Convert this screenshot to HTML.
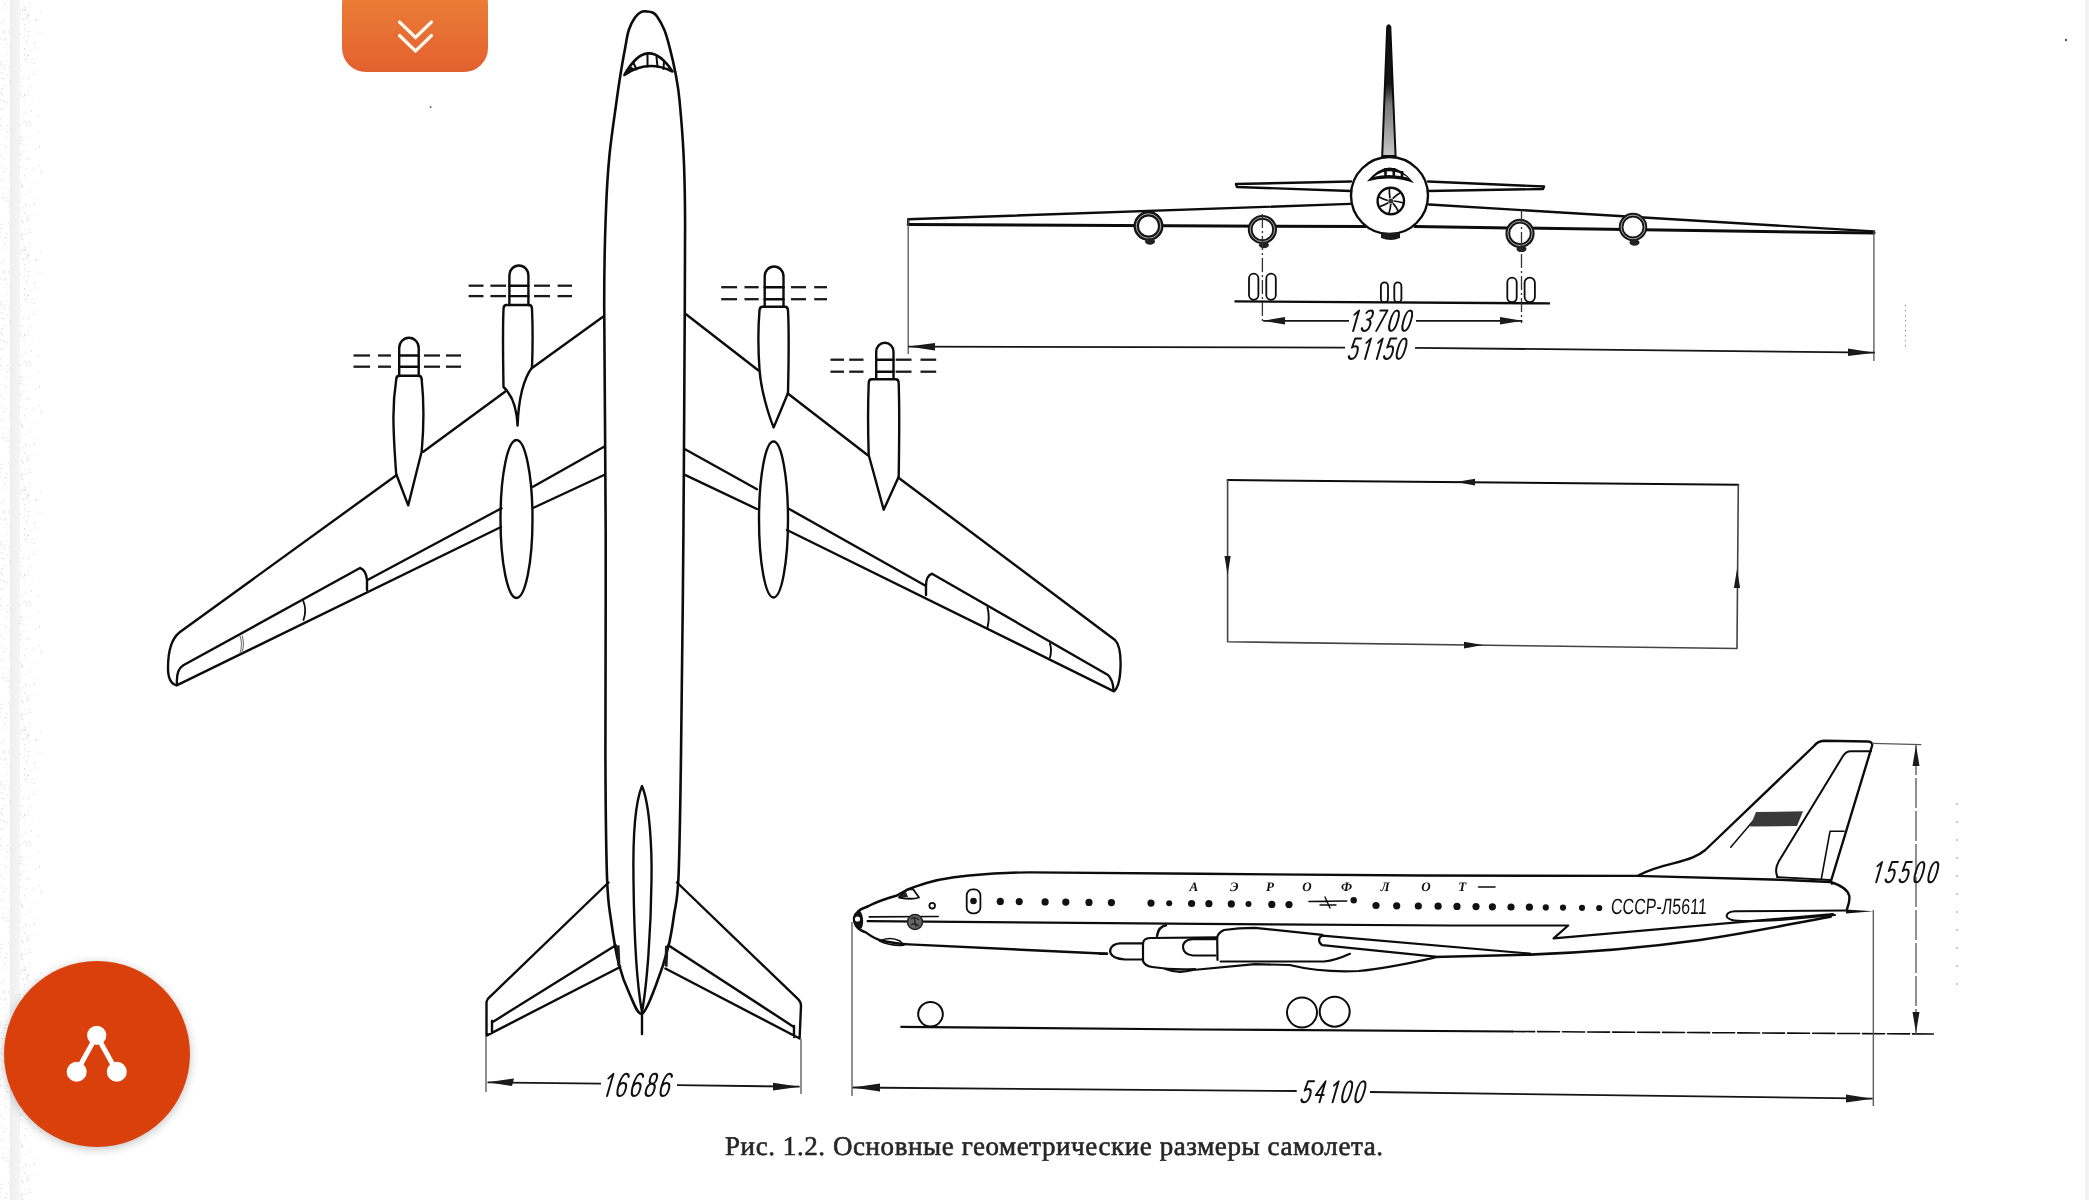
<!DOCTYPE html>
<html><head><meta charset="utf-8"><title>Ту-114</title>
<style>
html,body{margin:0;padding:0;background:#fff;}
body{width:2089px;height:1200px;overflow:hidden;position:relative;font-family:"Liberation Sans",sans-serif;-webkit-font-smoothing:antialiased;}
text{text-rendering:geometricPrecision;}
svg{position:absolute;left:0;top:0;will-change:transform;}
.l{fill:none;stroke:#0c0c0c;stroke-width:2.4;stroke-linejoin:round;stroke-linecap:round;}
.t{fill:none;stroke:#222;stroke-width:1.4;}
.dd{stroke:#1a1a1a;stroke-width:2.3;stroke-linecap:butt;}
.dim{fill:none;stroke:#161616;stroke-width:1.8;}
.ext{fill:none;stroke:#555;stroke-width:1.3;}
.num{font-family:"Liberation Sans",sans-serif;font-style:italic;fill:#1a1a1a;}
.btn{position:absolute;left:342px;top:-20px;width:146px;height:92px;border-radius:24px;background:linear-gradient(#EC8438,#E3602F);}
.fab{position:absolute;left:4px;top:961px;width:186px;height:186px;border-radius:50%;background:#D9400C;box-shadow:0 2px 10px rgba(0,0,0,0.25);}
</style></head><body>
<svg width="2089" height="1200" viewBox="0 0 2089 1200">
<rect x="10" y="0" width="10" height="1200" fill="url(#stripg)"/>
<rect x="2085" y="0" width="4" height="1200" fill="#f3f3f3"/>

<defs><pattern id="spk" x="0" y="0" width="44" height="240" patternUnits="userSpaceOnUse"><rect x="3.2" y="197.1" width="1" height="1" fill="rgb(201,201,201)"/><rect x="3.7" y="20.6" width="1" height="1" fill="rgb(221,221,221)"/><rect x="23.7" y="29.7" width="1" height="1" fill="rgb(209,209,209)"/><rect x="19.7" y="95.2" width="1" height="1" fill="rgb(209,209,209)"/><rect x="0.5" y="129.8" width="1" height="1" fill="rgb(231,231,231)"/><rect x="21.0" y="137.1" width="1" height="1" fill="rgb(207,207,207)"/><rect x="3.7" y="148.6" width="1" height="1" fill="rgb(226,226,226)"/><rect x="22.5" y="221.6" width="1" height="1" fill="rgb(218,218,218)"/><rect x="3.0" y="19.6" width="1" height="1" fill="rgb(214,214,214)"/><rect x="39.1" y="146.2" width="1" height="1" fill="rgb(199,199,199)"/><rect x="1.2" y="224.0" width="1" height="1" fill="rgb(221,221,221)"/><rect x="27.4" y="189.4" width="1" height="1" fill="rgb(215,215,215)"/><rect x="27.1" y="16.5" width="1" height="1" fill="rgb(200,200,200)"/><rect x="9.4" y="175.5" width="1" height="1" fill="rgb(214,214,214)"/><rect x="41.8" y="172.0" width="1" height="1" fill="rgb(217,217,217)"/><rect x="0.2" y="118.5" width="1" height="1" fill="rgb(208,208,208)"/><rect x="22.0" y="220.0" width="1" height="1" fill="rgb(226,226,226)"/><rect x="0.8" y="196.6" width="1" height="1" fill="rgb(230,230,230)"/><rect x="28.6" y="229.9" width="1" height="1" fill="rgb(204,204,204)"/><rect x="0.8" y="116.4" width="1" height="1" fill="rgb(232,232,232)"/><rect x="20.6" y="88.6" width="1" height="1" fill="rgb(231,231,231)"/><rect x="28.5" y="157.2" width="1" height="1" fill="rgb(198,198,198)"/><rect x="29.5" y="191.5" width="1" height="1" fill="rgb(220,220,220)"/><rect x="28.1" y="14.9" width="1" height="1" fill="rgb(199,199,199)"/><rect x="20.2" y="12.6" width="1" height="1" fill="rgb(195,195,195)"/><rect x="29.4" y="6.1" width="1" height="1" fill="rgb(208,208,208)"/><rect x="22.4" y="144.5" width="1" height="1" fill="rgb(225,225,225)"/><rect x="38.5" y="115.3" width="1" height="1" fill="rgb(214,214,214)"/><rect x="21.4" y="114.9" width="1" height="1" fill="rgb(205,205,205)"/><rect x="23.7" y="35.2" width="1" height="1" fill="rgb(229,229,229)"/><rect x="22.3" y="207.2" width="1" height="1" fill="rgb(211,211,211)"/><rect x="5.2" y="127.8" width="1" height="1" fill="rgb(227,227,227)"/><rect x="3.3" y="193.5" width="1" height="1" fill="rgb(220,220,220)"/><rect x="24.2" y="175.4" width="1" height="1" fill="rgb(196,196,196)"/><rect x="21.1" y="229.6" width="1" height="1" fill="rgb(223,223,223)"/><rect x="35.6" y="19.3" width="1" height="1" fill="rgb(201,201,201)"/><rect x="21.2" y="236.5" width="1" height="1" fill="rgb(195,195,195)"/><rect x="4.8" y="200.3" width="1" height="1" fill="rgb(202,202,202)"/><rect x="37.0" y="213.4" width="1" height="1" fill="rgb(222,222,222)"/><rect x="27.8" y="95.0" width="1" height="1" fill="rgb(220,220,220)"/><rect x="7.4" y="6.6" width="1" height="1" fill="rgb(232,232,232)"/><rect x="20.6" y="235.3" width="1" height="1" fill="rgb(217,217,217)"/><rect x="19.2" y="155.9" width="1" height="1" fill="rgb(228,228,228)"/><rect x="7.5" y="198.3" width="1" height="1" fill="rgb(208,208,208)"/><rect x="24.5" y="78.2" width="1" height="1" fill="rgb(229,229,229)"/><rect x="22.0" y="215.4" width="1" height="1" fill="rgb(232,232,232)"/><rect x="28.1" y="31.4" width="1" height="1" fill="rgb(204,204,204)"/><rect x="5.2" y="146.1" width="1" height="1" fill="rgb(204,204,204)"/><rect x="27.0" y="14.8" width="1" height="1" fill="rgb(228,228,228)"/><rect x="27.5" y="13.6" width="1" height="1" fill="rgb(207,207,207)"/><rect x="24.6" y="6.7" width="1" height="1" fill="rgb(199,199,199)"/><rect x="24.6" y="47.9" width="1" height="1" fill="rgb(212,212,212)"/><rect x="4.5" y="167.8" width="1" height="1" fill="rgb(211,211,211)"/><rect x="39.5" y="32.9" width="1" height="1" fill="rgb(202,202,202)"/><rect x="26.3" y="17.5" width="1" height="1" fill="rgb(214,214,214)"/><rect x="20.7" y="154.4" width="1" height="1" fill="rgb(218,218,218)"/><rect x="1.4" y="179.2" width="1" height="1" fill="rgb(201,201,201)"/><rect x="4.0" y="38.8" width="1" height="1" fill="rgb(222,222,222)"/><rect x="28.3" y="76.4" width="1" height="1" fill="rgb(218,218,218)"/><rect x="0.2" y="92.2" width="1" height="1" fill="rgb(228,228,228)"/><rect x="6.2" y="233.2" width="1" height="1" fill="rgb(201,201,201)"/><rect x="0.8" y="64.9" width="1" height="1" fill="rgb(203,203,203)"/><rect x="38.5" y="97.4" width="1" height="1" fill="rgb(229,229,229)"/><rect x="9.2" y="67.0" width="1" height="1" fill="rgb(206,206,206)"/><rect x="29.3" y="21.3" width="1" height="1" fill="rgb(211,211,211)"/><rect x="0.8" y="108.9" width="1" height="1" fill="rgb(216,216,216)"/><rect x="29.1" y="31.0" width="1" height="1" fill="rgb(228,228,228)"/><rect x="40.6" y="12.1" width="1" height="1" fill="rgb(207,207,207)"/><rect x="9.3" y="69.6" width="1" height="1" fill="rgb(227,227,227)"/><rect x="25.2" y="8.9" width="1" height="1" fill="rgb(196,196,196)"/><rect x="31.7" y="59.0" width="1" height="1" fill="rgb(223,223,223)"/><rect x="37.8" y="131.0" width="1" height="1" fill="rgb(220,220,220)"/><rect x="9.7" y="82.2" width="1" height="1" fill="rgb(203,203,203)"/><rect x="4.0" y="3.4" width="1" height="1" fill="rgb(211,211,211)"/><rect x="20.3" y="208.9" width="1" height="1" fill="rgb(213,213,213)"/><rect x="6.0" y="37.8" width="1" height="1" fill="rgb(223,223,223)"/><rect x="22.6" y="77.6" width="1" height="1" fill="rgb(197,197,197)"/><rect x="9.7" y="80.5" width="1" height="1" fill="rgb(200,200,200)"/><rect x="21.2" y="186.3" width="1" height="1" fill="rgb(200,200,200)"/><rect x="2.6" y="94.6" width="1" height="1" fill="rgb(214,214,214)"/><rect x="25.4" y="204.8" width="1" height="1" fill="rgb(204,204,204)"/><rect x="35.5" y="183.4" width="1" height="1" fill="rgb(226,226,226)"/><rect x="1.5" y="198.0" width="1" height="1" fill="rgb(227,227,227)"/><rect x="6.3" y="218.4" width="1" height="1" fill="rgb(227,227,227)"/><rect x="19.2" y="140.2" width="1" height="1" fill="rgb(209,209,209)"/><rect x="0.9" y="90.4" width="1" height="1" fill="rgb(223,223,223)"/><rect x="25.9" y="58.7" width="1" height="1" fill="rgb(211,211,211)"/><rect x="27.2" y="215.5" width="1" height="1" fill="rgb(200,200,200)"/><rect x="20.5" y="194.2" width="1" height="1" fill="rgb(211,211,211)"/><rect x="21.5" y="234.2" width="1" height="1" fill="rgb(226,226,226)"/><rect x="20.8" y="184.1" width="1" height="1" fill="rgb(207,207,207)"/><rect x="21.8" y="166.3" width="1" height="1" fill="rgb(231,231,231)"/><rect x="24.3" y="23.9" width="1" height="1" fill="rgb(208,208,208)"/><rect x="25.7" y="111.8" width="1" height="1" fill="rgb(202,202,202)"/><rect x="9.9" y="224.7" width="1" height="1" fill="rgb(196,196,196)"/><rect x="20.8" y="238.6" width="1" height="1" fill="rgb(219,219,219)"/><rect x="21.3" y="21.7" width="1" height="1" fill="rgb(228,228,228)"/><rect x="25.6" y="122.1" width="1" height="1" fill="rgb(202,202,202)"/><rect x="24.3" y="94.6" width="1" height="1" fill="rgb(205,205,205)"/><rect x="30.3" y="174.5" width="1" height="1" fill="rgb(221,221,221)"/><rect x="3.4" y="77.9" width="1" height="1" fill="rgb(216,216,216)"/><rect x="29.2" y="2.8" width="1" height="1" fill="rgb(213,213,213)"/><rect x="23.3" y="18.3" width="1" height="1" fill="rgb(222,222,222)"/><rect x="7.6" y="200.3" width="1" height="1" fill="rgb(213,213,213)"/><rect x="22.4" y="122.6" width="1" height="1" fill="rgb(207,207,207)"/><rect x="7.7" y="194.9" width="1" height="1" fill="rgb(220,220,220)"/><rect x="25.0" y="19.3" width="1" height="1" fill="rgb(221,221,221)"/><rect x="36.3" y="116.5" width="1" height="1" fill="rgb(230,230,230)"/><rect x="29.9" y="61.4" width="1" height="1" fill="rgb(211,211,211)"/><rect x="24.3" y="94.6" width="1" height="1" fill="rgb(205,205,205)"/><rect x="20.7" y="132.1" width="1" height="1" fill="rgb(223,223,223)"/><rect x="9.1" y="131.5" width="1" height="1" fill="rgb(210,210,210)"/><rect x="0.9" y="88.4" width="1" height="1" fill="rgb(231,231,231)"/><rect x="19.5" y="99.3" width="1" height="1" fill="rgb(228,228,228)"/><rect x="25.2" y="66.6" width="1" height="1" fill="rgb(218,218,218)"/><rect x="1.3" y="22.2" width="1" height="1" fill="rgb(210,210,210)"/><rect x="33.9" y="203.7" width="1" height="1" fill="rgb(196,196,196)"/><rect x="28.8" y="232.4" width="1" height="1" fill="rgb(226,226,226)"/><rect x="29.2" y="205.3" width="1" height="1" fill="rgb(223,223,223)"/><rect x="20.7" y="233.3" width="1" height="1" fill="rgb(201,201,201)"/><rect x="35.6" y="20.4" width="1" height="1" fill="rgb(197,197,197)"/><rect x="0.0" y="154.9" width="1" height="1" fill="rgb(214,214,214)"/><rect x="33.4" y="167.7" width="1" height="1" fill="rgb(202,202,202)"/><rect x="1.0" y="93.1" width="1" height="1" fill="rgb(209,209,209)"/><rect x="19.0" y="66.9" width="1" height="1" fill="rgb(215,215,215)"/><rect x="6.4" y="131.3" width="1" height="1" fill="rgb(196,196,196)"/><rect x="9.6" y="46.6" width="1" height="1" fill="rgb(221,221,221)"/><rect x="24.2" y="54.4" width="1" height="1" fill="rgb(197,197,197)"/><rect x="35.5" y="47.5" width="1" height="1" fill="rgb(213,213,213)"/><rect x="7.4" y="74.8" width="1" height="1" fill="rgb(207,207,207)"/><rect x="24.1" y="26.2" width="1" height="1" fill="rgb(226,226,226)"/><rect x="24.3" y="13.5" width="1" height="1" fill="rgb(204,204,204)"/><rect x="19.3" y="34.1" width="1" height="1" fill="rgb(198,198,198)"/><rect x="23.9" y="212.1" width="1" height="1" fill="rgb(202,202,202)"/><rect x="10.0" y="156.6" width="1" height="1" fill="rgb(228,228,228)"/><rect x="19.7" y="201.4" width="1" height="1" fill="rgb(216,216,216)"/><rect x="4.4" y="84.4" width="1" height="1" fill="rgb(202,202,202)"/><rect x="36.5" y="197.3" width="1" height="1" fill="rgb(222,222,222)"/><rect x="21.2" y="220.7" width="1" height="1" fill="rgb(207,207,207)"/><rect x="24.2" y="98.6" width="1" height="1" fill="rgb(220,220,220)"/><rect x="0.4" y="61.7" width="1" height="1" fill="rgb(199,199,199)"/><rect x="22.0" y="10.5" width="1" height="1" fill="rgb(215,215,215)"/><rect x="26.9" y="220.0" width="1" height="1" fill="rgb(199,199,199)"/><rect x="24.4" y="228.9" width="1" height="1" fill="rgb(219,219,219)"/><rect x="7.9" y="222.7" width="1" height="1" fill="rgb(206,206,206)"/><rect x="22.3" y="185.5" width="1" height="1" fill="rgb(210,210,210)"/><rect x="23.0" y="19.0" width="1" height="1" fill="rgb(207,207,207)"/><rect x="23.5" y="8.1" width="1" height="1" fill="rgb(230,230,230)"/><rect x="5.4" y="237.1" width="1" height="1" fill="rgb(211,211,211)"/><rect x="23.6" y="233.3" width="1" height="1" fill="rgb(206,206,206)"/><rect x="25.8" y="56.4" width="1" height="1" fill="rgb(229,229,229)"/><rect x="34.3" y="70.5" width="1" height="1" fill="rgb(231,231,231)"/><rect x="24.8" y="59.4" width="1" height="1" fill="rgb(210,210,210)"/><rect x="2.4" y="78.3" width="1" height="1" fill="rgb(220,220,220)"/><rect x="24.8" y="194.0" width="1" height="1" fill="rgb(224,224,224)"/><rect x="9.9" y="201.7" width="1" height="1" fill="rgb(218,218,218)"/><rect x="0.4" y="144.1" width="1" height="1" fill="rgb(232,232,232)"/><rect x="1.9" y="107.8" width="1" height="1" fill="rgb(211,211,211)"/><rect x="19.1" y="143.1" width="1" height="1" fill="rgb(217,217,217)"/><rect x="2.2" y="240.0" width="1" height="1" fill="rgb(197,197,197)"/><rect x="6.0" y="196.5" width="1" height="1" fill="rgb(221,221,221)"/><rect x="6.8" y="7.6" width="1" height="1" fill="rgb(226,226,226)"/><rect x="20.5" y="159.4" width="1" height="1" fill="rgb(204,204,204)"/><rect x="20.8" y="65.1" width="1" height="1" fill="rgb(213,213,213)"/><rect x="19.6" y="136.0" width="1" height="1" fill="rgb(217,217,217)"/><rect x="19.4" y="154.7" width="1" height="1" fill="rgb(220,220,220)"/><rect x="7.3" y="101.7" width="1" height="1" fill="rgb(200,200,200)"/><rect x="4.1" y="31.2" width="1" height="1" fill="rgb(198,198,198)"/><rect x="5.5" y="137.5" width="1" height="1" fill="rgb(218,218,218)"/><rect x="7.4" y="125.1" width="1" height="1" fill="rgb(199,199,199)"/><rect x="1.1" y="72.4" width="1" height="1" fill="rgb(197,197,197)"/><rect x="19.6" y="93.1" width="1" height="1" fill="rgb(205,205,205)"/><rect x="25.8" y="203.1" width="1" height="1" fill="rgb(225,225,225)"/><rect x="23.4" y="37.6" width="1" height="1" fill="rgb(217,217,217)"/><rect x="1.2" y="9.9" width="1" height="1" fill="rgb(230,230,230)"/><rect x="34.5" y="28.3" width="1" height="1" fill="rgb(224,224,224)"/><rect x="33.4" y="74.0" width="1" height="1" fill="rgb(210,210,210)"/><rect x="34.2" y="42.9" width="1" height="1" fill="rgb(195,195,195)"/><rect x="21.6" y="187.2" width="1" height="1" fill="rgb(224,224,224)"/><rect x="8.4" y="30.8" width="1" height="1" fill="rgb(222,222,222)"/><rect x="24.5" y="9.8" width="1" height="1" fill="rgb(203,203,203)"/><rect x="27.6" y="19.2" width="1" height="1" fill="rgb(227,227,227)"/><rect x="8.9" y="205.7" width="1" height="1" fill="rgb(202,202,202)"/><rect x="1.9" y="164.7" width="1" height="1" fill="rgb(209,209,209)"/><rect x="0.7" y="77.7" width="1" height="1" fill="rgb(212,212,212)"/><rect x="29.5" y="50.0" width="1" height="1" fill="rgb(211,211,211)"/><rect x="6.2" y="43.7" width="1" height="1" fill="rgb(205,205,205)"/><rect x="25.4" y="40.5" width="1" height="1" fill="rgb(211,211,211)"/><rect x="31.2" y="231.9" width="1" height="1" fill="rgb(223,223,223)"/><rect x="5.6" y="60.5" width="1" height="1" fill="rgb(229,229,229)"/><rect x="28.1" y="90.2" width="1" height="1" fill="rgb(218,218,218)"/><rect x="27.3" y="55.2" width="1" height="1" fill="rgb(198,198,198)"/><rect x="22.4" y="222.8" width="1" height="1" fill="rgb(215,215,215)"/><rect x="36.2" y="147.9" width="1" height="1" fill="rgb(222,222,222)"/><rect x="27.4" y="54.5" width="1" height="1" fill="rgb(197,197,197)"/><rect x="0.2" y="125.5" width="1" height="1" fill="rgb(229,229,229)"/><rect x="2.2" y="87.9" width="1" height="1" fill="rgb(225,225,225)"/><rect x="27.8" y="35.8" width="1" height="1" fill="rgb(201,201,201)"/><rect x="22.3" y="96.5" width="1" height="1" fill="rgb(211,211,211)"/><rect x="20.3" y="142.7" width="1" height="1" fill="rgb(232,232,232)"/><rect x="4.4" y="39.6" width="1" height="1" fill="rgb(195,195,195)"/><rect x="0.4" y="38.2" width="1" height="1" fill="rgb(201,201,201)"/><rect x="0.1" y="99.2" width="1" height="1" fill="rgb(228,228,228)"/><rect x="26.1" y="41.9" width="1" height="1" fill="rgb(214,214,214)"/><rect x="29.9" y="187.9" width="1" height="1" fill="rgb(229,229,229)"/><rect x="38.4" y="19.3" width="1" height="1" fill="rgb(223,223,223)"/><rect x="21.9" y="9.3" width="1" height="1" fill="rgb(216,216,216)"/><rect x="40.3" y="170.8" width="1" height="1" fill="rgb(212,212,212)"/><rect x="26.5" y="233.3" width="1" height="1" fill="rgb(213,213,213)"/><rect x="21.4" y="3.7" width="1" height="1" fill="rgb(211,211,211)"/><rect x="9.0" y="179.1" width="1" height="1" fill="rgb(215,215,215)"/><rect x="27.9" y="217.8" width="1" height="1" fill="rgb(229,229,229)"/><rect x="4.7" y="104.9" width="1" height="1" fill="rgb(209,209,209)"/><rect x="21.3" y="140.5" width="1" height="1" fill="rgb(231,231,231)"/><rect x="9.1" y="149.3" width="1" height="1" fill="rgb(205,205,205)"/><rect x="3.4" y="33.2" width="1" height="1" fill="rgb(197,197,197)"/><rect x="19.7" y="182.8" width="1" height="1" fill="rgb(207,207,207)"/><rect x="8.2" y="211.1" width="1" height="1" fill="rgb(219,219,219)"/><rect x="1.1" y="227.8" width="1" height="1" fill="rgb(200,200,200)"/><rect x="8.3" y="31.8" width="1" height="1" fill="rgb(208,208,208)"/><rect x="26.7" y="61.6" width="1" height="1" fill="rgb(213,213,213)"/><rect x="29.0" y="120.9" width="1" height="1" fill="rgb(213,213,213)"/><rect x="19.7" y="124.5" width="1" height="1" fill="rgb(201,201,201)"/><rect x="3.5" y="171.5" width="1" height="1" fill="rgb(200,200,200)"/><rect x="23.8" y="48.5" width="1" height="1" fill="rgb(198,198,198)"/><rect x="0.0" y="232.1" width="1" height="1" fill="rgb(232,232,232)"/><rect x="3.5" y="68.1" width="1" height="1" fill="rgb(208,208,208)"/><rect x="20.8" y="184.0" width="1" height="1" fill="rgb(226,226,226)"/><rect x="27.7" y="78.4" width="1" height="1" fill="rgb(201,201,201)"/><rect x="4.0" y="101.3" width="1" height="1" fill="rgb(196,196,196)"/><rect x="23.7" y="120.3" width="1" height="1" fill="rgb(219,219,219)"/><rect x="9.8" y="127.6" width="1" height="1" fill="rgb(197,197,197)"/><rect x="26.5" y="158.9" width="1" height="1" fill="rgb(215,215,215)"/><rect x="27.5" y="55.4" width="1" height="1" fill="rgb(216,216,216)"/><rect x="4.6" y="64.2" width="1" height="1" fill="rgb(204,204,204)"/><rect x="27.0" y="125.3" width="1" height="1" fill="rgb(205,205,205)"/><rect x="21.8" y="238.8" width="1" height="1" fill="rgb(205,205,205)"/><rect x="9.6" y="190.8" width="1" height="1" fill="rgb(214,214,214)"/><rect x="4.3" y="67.4" width="1" height="1" fill="rgb(219,219,219)"/><rect x="19.3" y="166.4" width="1" height="1" fill="rgb(227,227,227)"/><rect x="25.8" y="144.9" width="1" height="1" fill="rgb(220,220,220)"/><rect x="28.4" y="137.8" width="1" height="1" fill="rgb(221,221,221)"/><rect x="26.2" y="168.0" width="1" height="1" fill="rgb(209,209,209)"/><rect x="33.8" y="62.4" width="1" height="1" fill="rgb(201,201,201)"/><rect x="23.4" y="151.1" width="1" height="1" fill="rgb(211,211,211)"/><rect x="30.1" y="124.4" width="1" height="1" fill="rgb(206,206,206)"/><rect x="26.5" y="218.0" width="1" height="1" fill="rgb(201,201,201)"/><rect x="0.4" y="124.6" width="1" height="1" fill="rgb(201,201,201)"/><rect x="29.5" y="122.9" width="1" height="1" fill="rgb(218,218,218)"/><rect x="5.2" y="237.7" width="1" height="1" fill="rgb(206,206,206)"/><rect x="20.3" y="85.3" width="1" height="1" fill="rgb(198,198,198)"/><rect x="2.5" y="100.5" width="1" height="1" fill="rgb(221,221,221)"/><rect x="6.3" y="53.9" width="1" height="1" fill="rgb(220,220,220)"/><rect x="31.1" y="110.9" width="1" height="1" fill="rgb(205,205,205)"/><rect x="27.9" y="46.4" width="1" height="1" fill="rgb(230,230,230)"/><rect x="20.6" y="153.3" width="1" height="1" fill="rgb(221,221,221)"/><rect x="4.7" y="187.2" width="1" height="1" fill="rgb(225,225,225)"/><rect x="38.6" y="165.0" width="1" height="1" fill="rgb(222,222,222)"/><rect x="30.1" y="85.9" width="1" height="1" fill="rgb(214,214,214)"/><rect x="3.2" y="158.2" width="1" height="1" fill="rgb(218,218,218)"/></pattern><linearGradient id="stripg" x1="0" x2="1"><stop offset="0" stop-color="#eeeeee"/><stop offset="1" stop-color="#f6f6f6"/></linearGradient></defs>
<rect x="0" y="0" width="44" height="1200" fill="url(#spk)"/>
<g id="top">
<path d="M603,316.7 L531.7,368.3 M505,391.7 L423.3,451.7 M396.7,475 L180,632 C172,638 168,652 168,668 C168,678 171,684 176.7,685.3 L501,527 M533,508 L604,475" class="l"/>
<path d="M604,446.7 L533,486.7 M501.5,508.3 L367.5,580 M367,580 L367,590 M367,580 Q366,570 360,568 L183.3,665.3 Q176,670 177,684" class="l"/>
<path d="M303.3,601 Q307,610 303.5,620" class="l" style="stroke-width:1.8"/><path d="M240,636 Q243,644 240,653 M242,635.5 Q245,644 242,652.5" class="t" style="stroke:#777;stroke-width:1.1"/>
<path d="M686,314.2 L758.2,370.2 M787.8,393.5 L867.8,455.3 M898.2,477.5 L1115,640 C1120,645 1121,655 1120.5,668 C1120,680 1118,688 1114,691.3 L787,530 M757,509 L685.5,475.2" class="l"/>
<path d="M685.5,449.5 L757,489.2 M788.7,508.7 L926,586 M926,586 L926,595 M926,586 Q926,576 932,573.7 L1108,675 Q1113,680 1113.5,690" class="l"/>
<path d="M987.5,607.5 Q990,617 987.5,627.5 M1050,643.7 Q1052,650 1050,657.5" class="l" style="stroke-width:1.9"/>
<ellipse cx="516.5" cy="519" rx="16" ry="79" class="l" fill="#fff"/>
<ellipse cx="773.5" cy="519.5" rx="14.5" ry="78" class="l" fill="#fff"/>
<path d="M399.2,375.7 L418.7,375.7 Q421.7,375.7 421.7,379.7 C424.2,403.6 424.2,423.6 421.7,451.5 C417.2,469.3 412.2,489.2 408.2,505.4 C404.6,496.0 400.2,484.4 396.2,474 C392.5,423.6 392.5,403.6 396.2,379.7 Q396.2,375.7 399.2,375.7 Z" class="l" fill="#fff"/>
<path d="M399.2,375.5 L399.2,347.95 A9.75,10.2375 0 0 1 418.7,347.95 L418.7,375.5" class="l" fill="#fff"/>
<line x1="399.2" y1="355.5" x2="418.7" y2="355.5" class="l"/>
<line x1="353.5" y1="355.5" x2="370" y2="355.5" class="dd"/>
<line x1="378" y1="355.5" x2="391" y2="355.5" class="dd"/>
<line x1="424" y1="355.5" x2="440" y2="355.5" class="dd"/>
<line x1="446" y1="355.5" x2="461" y2="355.5" class="dd"/>
<line x1="399.2" y1="366.7" x2="418.7" y2="366.7" class="l"/>
<line x1="353.5" y1="366.7" x2="370" y2="366.7" class="dd"/>
<line x1="378" y1="366.7" x2="391" y2="366.7" class="dd"/>
<line x1="424" y1="366.7" x2="440" y2="366.7" class="dd"/>
<line x1="446" y1="366.7" x2="461" y2="366.7" class="dd"/>
<path d="M506.5,305 L529,305 Q532,305 532,309 C532.8,326.25 532.8,346.25 532,367.5 C522.6,380.3 518.5,399.5 517.6,425.6 C516.8,408.2 512.7,395.5 503.5,387 C502.8,346.25 502.8,326.25 503.5,309 Q503.5,305 506.5,305 Z" class="l" fill="#fff"/>
<path d="M509.4,305 L509.4,275.4 A9.5,9.975 0 0 1 528.4,275.4 L528.4,305" class="l" fill="#fff"/>
<line x1="509.4" y1="285.7" x2="528.4" y2="285.7" class="l"/>
<line x1="468.6" y1="285.7" x2="483.5" y2="285.7" class="dd"/>
<line x1="490.4" y1="285.7" x2="506" y2="285.7" class="dd"/>
<line x1="534" y1="285.7" x2="550" y2="285.7" class="dd"/>
<line x1="557.6" y1="285.7" x2="572" y2="285.7" class="dd"/>
<line x1="509.4" y1="296.1" x2="528.4" y2="296.1" class="l"/>
<line x1="468.6" y1="296.1" x2="483.5" y2="296.1" class="dd"/>
<line x1="490.4" y1="296.1" x2="506" y2="296.1" class="dd"/>
<line x1="534" y1="296.1" x2="550" y2="296.1" class="dd"/>
<line x1="557.6" y1="296.1" x2="572" y2="296.1" class="dd"/>
<path d="M762.5,306.7 L785,306.7 Q788,306.7 788,310.7 C789,328.2 789,348.2 788,393 C783.3,404.4 778.0,417.1 773.7,427.4 C768.7,415.9 760.9,389.9 759.5,369.7 C758,348.2 758,328.2 759.5,310.7 Q759.5,306.7 762.5,306.7 Z" class="l" fill="#fff"/>
<path d="M764.7,306.5 L764.7,276.4 A9.399999999999977,9.869999999999976 0 0 1 783.5,276.4 L783.5,306.5" class="l" fill="#fff"/>
<line x1="764.7" y1="287.2" x2="783.5" y2="287.2" class="l"/>
<line x1="721.2" y1="287.2" x2="737" y2="287.2" class="dd"/>
<line x1="744.5" y1="287.2" x2="758.7" y2="287.2" class="dd"/>
<line x1="791" y1="287.2" x2="806" y2="287.2" class="dd"/>
<line x1="814.2" y1="287.2" x2="827" y2="287.2" class="dd"/>
<line x1="764.7" y1="299.2" x2="783.5" y2="299.2" class="l"/>
<line x1="721.2" y1="299.2" x2="737" y2="299.2" class="dd"/>
<line x1="744.5" y1="299.2" x2="758.7" y2="299.2" class="dd"/>
<line x1="791" y1="299.2" x2="806" y2="299.2" class="dd"/>
<line x1="814.2" y1="299.2" x2="827" y2="299.2" class="dd"/>
<path d="M871.7,379.2 L895.7,379.2 Q898.7,379.2 898.7,383.2 C899.5,407.1 899.5,427.1 898.7,476.7 C893.8,487.6 888.2,499.8 883.7,509.7 C879.2,493.3 873.7,473.1 868.7,455 C867.8,427.1 867.8,407.1 868.7,383.2 Q868.7,379.2 871.7,379.2 Z" class="l" fill="#fff"/>
<path d="M876.2,378.8 L876.2,351.84999999999997 A8.649999999999977,9.082499999999976 0 0 1 893.5,351.84999999999997 L893.5,378.8" class="l" fill="#fff"/>
<line x1="876.2" y1="359.7" x2="893.5" y2="359.7" class="l"/>
<line x1="830.5" y1="359.7" x2="844" y2="359.7" class="dd"/>
<line x1="849.2" y1="359.7" x2="863.5" y2="359.7" class="dd"/>
<line x1="895.7" y1="359.7" x2="911.5" y2="359.7" class="dd"/>
<line x1="920.5" y1="359.7" x2="936.2" y2="359.7" class="dd"/>
<line x1="876.2" y1="371.7" x2="893.5" y2="371.7" class="l"/>
<line x1="830.5" y1="371.7" x2="844" y2="371.7" class="dd"/>
<line x1="849.2" y1="371.7" x2="863.5" y2="371.7" class="dd"/>
<line x1="895.7" y1="371.7" x2="911.5" y2="371.7" class="dd"/>
<line x1="920.5" y1="371.7" x2="936.2" y2="371.7" class="dd"/>
<path d="M642.0,1013.7 C637.7,1015.4 633.9,1003.3 630.0,995.0 C626.1,986.7 622.0,976.5 618.8,964.0 C615.6,951.5 613.0,934.5 611.0,920.0 C609.0,905.5 607.9,904.2 607.0,876.7 C606.1,849.2 605.6,812.0 605.4,755.0 C605.2,698.0 605.9,610.0 605.7,535.0 C605.5,460.0 604.2,359.2 604.2,305.0 C604.2,250.8 605.1,235.0 606.0,210.0 C606.9,185.0 607.7,173.3 609.5,155.0 C611.3,136.7 614.9,113.5 616.7,100.0 C618.6,86.5 619.2,82.3 620.6,73.8 C622.0,65.3 623.6,56.1 625.0,48.8 C626.4,41.5 627.1,35.2 628.8,30.0 C630.5,24.8 632.9,20.5 635.0,17.5 C637.1,14.5 639.3,12.9 641.3,11.9 C643.3,10.9 645.1,11.4 647.0,11.5 C648.9,11.6 650.9,11.7 652.5,12.5 C654.1,13.3 654.9,13.4 656.9,16.3 C658.9,19.2 662.2,24.6 664.4,30.0 C666.6,35.4 668.1,41.5 670.0,48.8 C671.9,56.1 674.0,65.3 675.6,73.8 C677.2,82.3 678.2,86.5 679.5,100.0 C680.8,113.5 682.7,136.7 683.6,155.0 C684.5,173.3 684.8,185.0 685.0,210.0 C685.2,235.0 685.1,250.8 684.8,305.0 C684.5,359.2 684.0,460.0 683.4,535.0 C682.8,610.0 681.8,698.0 681.0,755.0 C680.2,812.0 679.7,850.0 678.5,876.7 C677.3,903.4 675.7,903.3 674.0,915.0 C672.3,926.7 671.3,935.0 668.3,946.7 C665.3,958.4 660.4,973.8 656.0,985.0 C651.6,996.2 646.3,1012.0 642.0,1013.7 Z" class="l" fill="#fff" style="stroke-width:2.6"/>
<path d="M642,1012 L642,1034" class="l"/>
<path d="M642,786 C634,805 633,850 633.5,880 C634,930 637,985 642,1012 C647,985 651,930 651.5,880 C652,850 650,805 642,786 Z" class="l"/>
<path d="M624.4,75 Q647.5,33.5 672.5,71.5 M624.4,75 Q647.5,59 672.5,71.5" class="l" style="stroke-width:2.6"/>
<path d="M624.4,75.5 L630,66 L635,69 Z" fill="#111"/>
<path d="M633.5,63 L636.5,69.5 M647.5,55 L647.5,66.5 M656.5,57 L657.5,67 M664,61.5 L663.5,69" class="l" style="stroke-width:2"/>
<path d="M616,946 L619.5,945 L620.5,967 L617.5,966 Z M665,946 L668.5,945 L667.5,967 L664.5,966 Z" fill="#1a1a1a"/>
<path d="M608.5,882.5 L490.4,996.3 Q487,999 486.5,1002 L486.5,1035.6 L620.2,967 M491.9,1022.5 L615.8,945.2 M492,1021 L492,1033" class="l"/>
<path d="M677,882.5 L798.1,999.2 Q801,1002 801,1006 L799.6,1038.5 L665.4,968.5 M793.8,1026.9 L668.3,945.2 M794,1026 L794,1037" class="l"/>
</g>
<path d="M486,1036 L486,1092 M801,1039 L801,1094" class="ext"/>
<path d="M487.5,1082.3 L601,1083.7 M677,1085.2 L799.6,1086.7" class="dim"/>
<path d="M487.5,1082.3 L514,1078.5 L512,1086 Z M799.6,1086.7 L773,1082.7 L773,1090.5 Z" fill="#1a1a1a"/>
<g transform="translate(601.20,1096.00) skewX(-16) scale(1.0068)" fill="none" stroke="#111" stroke-width="1.99" stroke-linecap="round" stroke-linejoin="round"><path transform="translate(0.00,0)" d="M2.2,-17.5 L5.8,-22 L5.8,0"/><path transform="translate(14.30,0)" d="M7.6,-19 C7,-21 5.5,-22 4.2,-22 C1.5,-22 0,-17 0,-10 C0,-3.5 1.5,0 4,0 C6.5,0 8,-2.5 8,-6.8 C8,-10.8 6.4,-13 4,-13 C1.8,-13 0.4,-11 0.1,-8.5"/><path transform="translate(28.60,0)" d="M7.6,-19 C7,-21 5.5,-22 4.2,-22 C1.5,-22 0,-17 0,-10 C0,-3.5 1.5,0 4,0 C6.5,0 8,-2.5 8,-6.8 C8,-10.8 6.4,-13 4,-13 C1.8,-13 0.4,-11 0.1,-8.5"/><path transform="translate(42.91,0)" d="M4,-12.2 C1.6,-12.2 0.7,-14.5 0.7,-17.2 C0.7,-20 2.1,-22 4,-22 C5.9,-22 7.3,-20 7.3,-17.2 C7.3,-14.5 6.4,-12.2 4,-12.2 C1.5,-12.2 0,-9.8 0,-6.2 C0,-2.5 1.6,0 4,0 C6.4,0 8,-2.5 8,-6.2 C8,-9.8 6.5,-12.2 4,-12.2 Z"/><path transform="translate(57.21,0)" d="M7.6,-19 C7,-21 5.5,-22 4.2,-22 C1.5,-22 0,-17 0,-10 C0,-3.5 1.5,0 4,0 C6.5,0 8,-2.5 8,-6.8 C8,-10.8 6.4,-13 4,-13 C1.8,-13 0.4,-11 0.1,-8.5"/></g>
<g id="front">
<path d="M1350,203.9 L908.2,219.3 M908.2,219.3 L908.2,224.4 M1429,204.5 L1874,231.4 L1874,233" class="l"/>
<path d="M1365.9,226.6 L908.2,224.4 M1414.8,226.6 L1874,233" class="l" style="stroke-width:3"/>
<path d="M1351,181.5 L1236,184 L1237,187 L1351,191 M1428,181.5 L1544,186.5 L1543,189 L1428,191" class="l" style="stroke-width:2.4"/>
<defs><linearGradient id="fing" x1="0" y1="0" x2="0" y2="1"><stop offset="0" stop-color="#111"/><stop offset="0.45" stop-color="#151515"/><stop offset="0.6" stop-color="#777"/><stop offset="1" stop-color="#c8c8c8"/></linearGradient></defs>
<path d="M1382.2,156 L1387.2,27 Q1388.7,23.5 1390.3,27 L1395.6,156 Z" fill="url(#fing)" stroke="#0c0c0c" stroke-width="2"/>
<circle cx="1389.5" cy="195.5" r="38.5" class="l" fill="#fff" style="stroke-width:2.4"/>
<path d="M1381,233 L1400,233 L1400,238 Q1391,242 1381,238 Z" fill="#1a1a1a"/>
<path d="M1366.8,181.6 Q1390,152.5 1414,183 Q1390,175 1366.8,181.6 Z" fill="#0c0c0c"/>
<path d="M1374,176.8 Q1390,165.5 1408,177.6 Q1390,173 1374,176.8 Z" fill="#fff"/>
<path d="M1385.5,168 L1385.5,178 M1393.8,168 L1393.8,178 M1402,171 L1402,178.5" stroke="#0c0c0c" stroke-width="2.6"/>
<circle cx="1390.8" cy="201" r="13.2" class="l"/><circle cx="1390.8" cy="201" r="2.6" fill="#333"/>
<path d="M1390.0,198.1 Q1389.1,193.2 1389.4,188.1 M1392.7,198.7 Q1396.2,195.1 1400.6,192.5 M1393.8,201.0 Q1398.8,201.4 1403.6,203.0 M1392.9,203.1 Q1396.2,206.9 1398.4,211.5 M1390.8,204.0 Q1390.4,209.0 1388.8,213.8 M1388.3,202.7 Q1384.0,205.3 1379.1,206.7 M1387.8,200.5 Q1383.0,199.2 1378.5,196.8" fill="none" stroke="#111" stroke-width="1.7"/>
<circle cx="1148.5" cy="226" r="12.25" fill="#fff" stroke="#151515" stroke-width="5.5"/>
<circle cx="1148.5" cy="226" r="12.25" fill="none" stroke="#bbb" stroke-width="0.9"/>
<ellipse cx="1150.0" cy="241.5" rx="5" ry="3.2" fill="#222"/>
<circle cx="1262.4" cy="229.5" r="12.2" fill="#fff" stroke="#151515" stroke-width="4.799999999999999"/>
<circle cx="1262.4" cy="229.5" r="12.2" fill="none" stroke="#bbb" stroke-width="0.9"/>
<ellipse cx="1263.9" cy="245.0" rx="5" ry="3.2" fill="#222"/>
<circle cx="1520" cy="233.4" r="12.2" fill="#fff" stroke="#151515" stroke-width="4.799999999999999"/>
<circle cx="1520" cy="233.4" r="12.2" fill="none" stroke="#bbb" stroke-width="0.9"/>
<ellipse cx="1521.5" cy="248.9" rx="5" ry="3.2" fill="#222"/>
<circle cx="1633" cy="227" r="11.899999999999999" fill="#fff" stroke="#151515" stroke-width="4.6"/>
<circle cx="1633" cy="227" r="11.899999999999999" fill="none" stroke="#bbb" stroke-width="0.9"/>
<ellipse cx="1634.5" cy="242.5" rx="5" ry="3.2" fill="#222"/>
<rect x="1249" y="273.7" width="9.400000000000091" height="26.100000000000023" rx="4.7000000000000455" ry="4.7000000000000455" class="l" style="stroke-width:1.8"/>
<rect x="1266.3" y="273.7" width="9.5" height="26.100000000000023" rx="4.75" ry="4.75" class="l" style="stroke-width:1.8"/>
<rect x="1380.9" y="282.4" width="7.099999999999909" height="19.80000000000001" rx="3.5499999999999545" ry="3.5499999999999545" class="l" style="stroke-width:1.8"/>
<rect x="1394.3" y="282.4" width="7.100000000000136" height="19.80000000000001" rx="3.550000000000068" ry="3.550000000000068" class="l" style="stroke-width:1.8"/>
<rect x="1507.3" y="277.7" width="9.400000000000091" height="24.5" rx="4.7000000000000455" ry="4.7000000000000455" class="l" style="stroke-width:1.8"/>
<rect x="1524.6" y="277.7" width="10.300000000000182" height="24.5" rx="5.150000000000091" ry="5.150000000000091" class="l" style="stroke-width:1.8"/>
<path d="M1235.5,301.4 L1549,303.4" class="l"/>
<path d="M1262.4,214 L1262.4,321 M1521.5,210 L1521.5,323" stroke="#333" stroke-width="1.3" stroke-dasharray="14 3 2 3"/>
<path d="M1263.2,320.8 L1349,320.8 M1416,320.8 L1522.3,320.8" class="dim"/>
<path d="M1263.2,320.8 L1285,317 L1285,324.6 Z M1522.3,320.8 L1500,317 L1500,324.6 Z" fill="#1a1a1a"/>
<g transform="translate(1347.80,330.90) skewX(-16) scale(0.9259)" fill="none" stroke="#111" stroke-width="2.16" stroke-linecap="round" stroke-linejoin="round"><path transform="translate(0.00,0)" d="M2.2,-17.5 L5.8,-22 L5.8,0"/><path transform="translate(14.26,0)" d="M0.3,-19.5 C1,-21.3 2.5,-22 4,-22 C6.2,-22 7.6,-20.3 7.6,-17.3 C7.6,-14.2 6,-12.3 3.2,-12.3 C6.2,-12.3 8,-10 8,-6.3 C8,-2.3 6.2,0 3.8,0 C1.8,0 0.6,-1 0,-3"/><path transform="translate(28.51,0)" d="M0.3,-22 L8,-22 L2.2,0"/><path transform="translate(42.77,0)" d="M4,-22 C6.8,-22 8,-17 8,-11 C8,-5 6.8,0 4,0 C1.2,0 0,-5 0,-11 C0,-17 1.2,-22 4,-22 Z"/><path transform="translate(57.03,0)" d="M4,-22 C6.8,-22 8,-17 8,-11 C8,-5 6.8,0 4,0 C1.2,0 0,-5 0,-11 C0,-17 1.2,-22 4,-22 Z"/></g>
<path d="M908.2,219 L908.2,354 M1873.9,231 L1873.9,361" class="ext"/>
<path d="M908.2,346.6 L1345,347.6 M1415,347.8 L1874.7,352.7" class="dim"/>
<path d="M908.2,346.6 L935,343 L935,350.5 Z M1874.7,352.7 L1848,348.5 L1848,356 Z" fill="#1a1a1a"/>
<g transform="translate(1348.00,358.90) skewX(-16) scale(0.9223)" fill="none" stroke="#111" stroke-width="2.17" stroke-linecap="round" stroke-linejoin="round"><path transform="translate(0.00,0)" d="M7.8,-22 L1.5,-22 L0.8,-12.3 C1.8,-13.3 2.9,-13.8 4.2,-13.8 C6.6,-13.8 8,-11.3 8,-7 C8,-2.5 6.4,0 3.8,0 C1.8,0 0.6,-1 0,-3"/><path transform="translate(12.74,0)" d="M2.2,-17.5 L5.8,-22 L5.8,0"/><path transform="translate(25.48,0)" d="M2.2,-17.5 L5.8,-22 L5.8,0"/><path transform="translate(38.22,0)" d="M7.8,-22 L1.5,-22 L0.8,-12.3 C1.8,-13.3 2.9,-13.8 4.2,-13.8 C6.6,-13.8 8,-11.3 8,-7 C8,-2.5 6.4,0 3.8,0 C1.8,0 0.6,-1 0,-3"/><path transform="translate(50.96,0)" d="M4,-22 C6.8,-22 8,-17 8,-11 C8,-5 6.8,0 4,0 C1.2,0 0,-5 0,-11 C0,-17 1.2,-22 4,-22 Z"/></g>
</g>
<path d="M1227.6,480.1 L1738.3,484.7" class="l" style="stroke-width:2"/>
<path d="M1227.6,641.8 L1737,648.5 M1227.6,480.1 L1227.6,641.8 M1738.3,484.7 L1737,648.5" class="l" style="stroke-width:1.6;stroke:#444"/>
<path d="M1456,482 L1475,478.8 L1475,485.6 Z M1227.6,575 L1224.5,556 L1230.7,556 Z M1483,645 L1464,641.8 L1464,648.6 Z M1737,569 L1733.9,588 L1740.1,588 Z" fill="#1a1a1a"/>
<g id="side">
<path d="M867.6,906.5 C878,901 888,898 897,895.5 C903,892 907,889.5 912.4,887.6 C930,881 950,877 969.2,875.5 C990,873.5 1010,872.5 1029.6,872.4 L1200,873.8 L1420,875.5 L1637,875.9 L1780,879.8 L1830.7,882" class="l" style="stroke-width:2.4"/>
<path d="M867.6,906.5 C860,909 855,913 854,918 C854,925 858,930 865.8,932.4 C872,937 878,940 883,941 C893,943 900,944 909,944.4 L1107,953.8" class="l" style="stroke-width:2.4"/>
<path d="M860,911 C855,913 853,917 853.5,921 C854,925 857,928 861,929 C864,926 864,915 860,911 Z" fill="#111"/>
<circle cx="857.5" cy="919" r="2.6" fill="#fff"/>
<path d="M899,897.5 L907,889.5 L913,889 L919,897.5 Q912,900 899,897.5 Z" class="l" style="stroke-width:1.8"/>
<path d="M900,897 L906,892 L908,897 Z" fill="#222"/>
<circle cx="932.2" cy="905.7" r="2.8" class="l" style="stroke-width:1.8"/>
<rect x="966.7" y="889.3" width="13.7" height="24.1" rx="6" ry="6" class="l" style="stroke-width:1.8"/>
<circle cx="973.5" cy="901" r="3.3" fill="#111"/>
<path d="M869.3,916.9 L938.2,916.5" class="l" style="stroke-width:1.6"/>
<path d="M867.6,921.2 L1200,923.8 L1450,925.5 L1568.2,925.5 L1553.6,938.4 L1833,914" class="l" style="stroke-width:2.2"/>
<circle cx="915" cy="922" r="7.5" fill="#666" stroke="#222" stroke-width="1.6"/><path d="M911,919 Q915,916 919,920 M911,925 Q915,922 919,926 M914,917 L916,927" stroke="#222" stroke-width="1.3" fill="none"/>
<path d="M879.6,941 Q890,936 900,941 Q903,944 903.8,945.3 Q890,946 879.6,941 Z" class="l" style="stroke-width:1.6"/>
<circle cx="1000.3" cy="901.4" r="3.6" fill="#111"/>
<circle cx="1019.2" cy="901.6" r="3.6" fill="#111"/>
<circle cx="1045.1" cy="901.9" r="3.6" fill="#111"/>
<circle cx="1065.8" cy="902.1" r="3.6" fill="#111"/>
<circle cx="1089" cy="902.4" r="3.6" fill="#111"/>
<circle cx="1111.4" cy="902.6" r="3.6" fill="#111"/>
<circle cx="1151" cy="903.1" r="3.6" fill="#111"/>
<circle cx="1169.2" cy="903.3" r="3.0" fill="#111"/>
<circle cx="1191.6" cy="903.5" r="3.6" fill="#111"/>
<circle cx="1208.9" cy="903.7" r="3.6" fill="#111"/>
<circle cx="1231.3" cy="903.9" r="3.6" fill="#111"/>
<circle cx="1248.5" cy="904.1" r="3.0" fill="#111"/>
<circle cx="1271.8" cy="904.4" r="3.6" fill="#111"/>
<circle cx="1289" cy="904.6" r="3.6" fill="#111"/>
<circle cx="1353.7" cy="900.3" r="3.2" fill="#111"/>
<circle cx="1376" cy="905.5" r="3.6" fill="#111"/>
<circle cx="1396.7" cy="905.8" r="3.6" fill="#111"/>
<circle cx="1418.3" cy="906.0" r="3.6" fill="#111"/>
<circle cx="1438.1" cy="906.2" r="3.6" fill="#111"/>
<circle cx="1457" cy="906.4" r="3.6" fill="#111"/>
<circle cx="1476" cy="906.6" r="3.6" fill="#111"/>
<circle cx="1492.4" cy="906.8" r="3.6" fill="#111"/>
<circle cx="1511" cy="907.0" r="3.6" fill="#111"/>
<circle cx="1529.4" cy="907.2" r="3.6" fill="#111"/>
<circle cx="1545.8" cy="907.4" r="3.1" fill="#111"/>
<circle cx="1563" cy="907.6" r="3.1" fill="#111"/>
<circle cx="1582" cy="907.8" r="3.1" fill="#111"/>
<circle cx="1599.2" cy="908.0" r="3.1" fill="#111"/>
<text x="1189.4" y="890.5" font-family="Liberation Serif" font-style="italic" font-weight="bold" font-size="13" fill="#111">А</text>
<text x="1229.9" y="890.5" font-family="Liberation Serif" font-style="italic" font-weight="bold" font-size="13" fill="#111">Э</text>
<text x="1266" y="890.5" font-family="Liberation Serif" font-style="italic" font-weight="bold" font-size="13" fill="#111">Р</text>
<text x="1302.3" y="890.5" font-family="Liberation Serif" font-style="italic" font-weight="bold" font-size="13" fill="#111">О</text>
<text x="1341" y="890.5" font-family="Liberation Serif" font-style="italic" font-weight="bold" font-size="13" fill="#111">Ф</text>
<text x="1380.7" y="890.5" font-family="Liberation Serif" font-style="italic" font-weight="bold" font-size="13" fill="#111">Л</text>
<text x="1421.2" y="890.5" font-family="Liberation Serif" font-style="italic" font-weight="bold" font-size="13" fill="#111">О</text>
<text x="1458.2" y="890.5" font-family="Liberation Serif" font-style="italic" font-weight="bold" font-size="13" fill="#111">Т</text>
<path d="M1478.6,887 L1495,887" class="l" style="stroke-width:1.6"/>
<path d="M1308.9,901.5 L1346.8,901 M1320,905 L1336,905 M1325,897 L1330,908" class="l" style="stroke-width:1.4"/>
<text x="1610.5" y="913.6" font-family="Liberation Sans" font-size="22" fill="#111" textLength="96" lengthAdjust="spacingAndGlyphs" transform="skewX(-4) translate(63.8,0)">СССР-Л5611</text>
<path d="M1143,943.4 L1120,943.4 C1112,944 1109,949 1110.5,953 C1112,957 1118,959 1125,959.5 L1143,959.5" class="l" style="stroke-width:2.2"/>
<path d="M1100,953.8 L1107,953.8" class="l"/>
<path d="M1157,936 C1158,930 1161,926 1166,925.3" class="l"/>
<path d="M1217,937.4 L1150,938 Q1143,938.3 1143,944 L1143,961 Q1145,966 1152,967 C1165,969 1180,970 1195,969" class="l" style="stroke-width:2.2"/>
<path d="M1215.5,939.1 L1193,939.1 C1185,939.5 1182.5,944 1183,947.5 C1183.5,952 1187,955 1193,955.5 L1215.5,955.5" class="l" style="stroke-width:2.2"/>
<path d="M1217.5,960 L1217.2,938 Q1217.5,933 1224,930 C1235,928.5 1245,928 1255,927.9 L1322.3,934.8 M1220.6,961.5 L1324,961.5 C1335,960.5 1343,957 1349.9,953.8" class="l" style="stroke-width:2.2"/>
<path d="M1322.3,935.7 L1530,953.6 M1322.3,945.2 L1435,956.6 M1322.3,935.7 C1318,937 1318,943 1322.3,945.2" class="l" style="stroke-width:2.2"/>
<path d="M1165.5,969 Q1178,974 1193,970 L1255,964.1 L1289.6,965 C1310,970 1335,972 1358.5,971 C1390,968 1415,962 1436,957.2" class="l" style="stroke-width:2.2"/>
<path d="M1434,957 L1530,954.6 C1600,952 1650,947 1700,940 C1760,931 1800,922 1830.7,916.7" class="l" style="stroke-width:2.6"/>
<path d="M1638.7,875.3 C1650,869 1662,866 1673.3,863.3 C1690,859 1698,856 1705.3,850 L1814,746 Q1818,741 1824,740.7 L1868,741.5 Q1873,742 1872,746 L1830.7,882 C1840,885 1848,890 1849.3,896 C1850,902 1848,906 1847,909" class="l" style="stroke-width:2.4"/>
<path d="M1777.3,876.7 C1775,871 1776,866 1779,861 L1843,756 Q1846,751.3 1851,751.3 L1871,751.3" class="l" style="stroke-width:2"/>
<path d="M1730.7,847.3 L1753.3,820.7" class="l" style="stroke-width:1.5"/>
<path d="M1756,812 L1803,811.3 L1797,826 L1750,826.5 Z" fill="#3a3a3a"/>
<path d="M1821.3,879 L1830,831.3 L1844,831.3" class="l" style="stroke-width:1.6"/>
<path d="M1777,877 L1830,880 L1832,884" class="l" style="stroke-width:1.8"/>
<path d="M1846,910.5 L1735,911.3 C1725,912 1724,918 1732,920 C1740,922 1760,921 1780,920 L1835,915" class="l" style="stroke-width:2"/>
<path d="M1846,909.5 L1873.3,911.3 L1846,913.5 Z" fill="#111"/>
<circle cx="930.5" cy="1014.2" r="12.3" class="l" style="stroke-width:2"/>
<circle cx="1302" cy="1012.5" r="15" class="l" style="stroke-width:2"/>
<circle cx="1334.7" cy="1011.7" r="15" class="l" style="stroke-width:2"/>
<path d="M901.2,1026.8 L1200,1029.5 L1512.6,1031.5" class="l" style="stroke-width:2.2"/>
<path d="M1512.6,1031.5 L1933.3,1034" class="l" style="stroke-width:1.6;stroke-dasharray:22 3"/>
<path d="M852,922 L852,1096 M1873.3,910 L1873.3,1106" class="ext"/>
<path d="M1872,743.3 L1921.3,744.7" class="ext"/>
<path d="M1916,745 L1916,1034" class="ext" style="stroke-dasharray:30 3"/>
<path d="M1916,745 L1912.5,766 L1919.5,766 Z M1916,1033 L1912.5,1012 L1919.5,1012 Z" fill="#1a1a1a"/>
<g transform="translate(1870.90,882.30) skewX(-16) scale(0.9205)" fill="none" stroke="#111" stroke-width="2.17" stroke-linecap="round" stroke-linejoin="round"><path transform="translate(0.00,0)" d="M2.2,-17.5 L5.8,-22 L5.8,0"/><path transform="translate(15.16,0)" d="M7.8,-22 L1.5,-22 L0.8,-12.3 C1.8,-13.3 2.9,-13.8 4.2,-13.8 C6.6,-13.8 8,-11.3 8,-7 C8,-2.5 6.4,0 3.8,0 C1.8,0 0.6,-1 0,-3"/><path transform="translate(30.31,0)" d="M7.8,-22 L1.5,-22 L0.8,-12.3 C1.8,-13.3 2.9,-13.8 4.2,-13.8 C6.6,-13.8 8,-11.3 8,-7 C8,-2.5 6.4,0 3.8,0 C1.8,0 0.6,-1 0,-3"/><path transform="translate(45.47,0)" d="M4,-22 C6.8,-22 8,-17 8,-11 C8,-5 6.8,0 4,0 C1.2,0 0,-5 0,-11 C0,-17 1.2,-22 4,-22 Z"/><path transform="translate(60.62,0)" d="M4,-22 C6.8,-22 8,-17 8,-11 C8,-5 6.8,0 4,0 C1.2,0 0,-5 0,-11 C0,-17 1.2,-22 4,-22 Z"/></g>
<path d="M852.7,1087.5 L1296.7,1091 M1370,1092 L1872.6,1098.7" class="dim"/>
<path d="M852.7,1087.5 L880,1083.5 L880,1091.5 Z M1872.6,1098.7 L1846,1094.5 L1846,1102.5 Z" fill="#1a1a1a"/>
<g transform="translate(1300.60,1102.20) skewX(-16) scale(0.9491)" fill="none" stroke="#111" stroke-width="2.11" stroke-linecap="round" stroke-linejoin="round"><path transform="translate(0.00,0)" d="M7.8,-22 L1.5,-22 L0.8,-12.3 C1.8,-13.3 2.9,-13.8 4.2,-13.8 C6.6,-13.8 8,-11.3 8,-7 C8,-2.5 6.4,0 3.8,0 C1.8,0 0.6,-1 0,-3"/><path transform="translate(13.96,0)" d="M6,0 L6,-22 L0,-7.5 L8.2,-7.5"/><path transform="translate(27.92,0)" d="M2.2,-17.5 L5.8,-22 L5.8,0"/><path transform="translate(41.88,0)" d="M4,-22 C6.8,-22 8,-17 8,-11 C8,-5 6.8,0 4,0 C1.2,0 0,-5 0,-11 C0,-17 1.2,-22 4,-22 Z"/><path transform="translate(55.84,0)" d="M4,-22 C6.8,-22 8,-17 8,-11 C8,-5 6.8,0 4,0 C1.2,0 0,-5 0,-11 C0,-17 1.2,-22 4,-22 Z"/></g>
</g>
<path d="M1905.5,305 L1905.5,350" stroke="#999" stroke-width="1" stroke-dasharray="1.5 3.5"/>
<path d="M1957,803 L1957,1000" stroke="#aaa" stroke-width="1.2" stroke-dasharray="2 16"/>
<circle cx="2066" cy="40" r="1.2" fill="#555"/><circle cx="430.6" cy="107" r="1" fill="#666"/>
<text x="725" y="1155.3" font-family="Liberation Serif" font-size="27" fill="#262626" stroke="#262626" stroke-width="0.6" textLength="658" lengthAdjust="spacing">Рис. 1.2. Основные геометрические размеры самолета.</text>
</svg>
<div class="btn"></div>
<svg width="2089" height="1200" style="position:absolute;left:0;top:0"><path d="M399.5,22 L415.5,37.5 L431.5,22 M399.5,35.5 L415.5,51 L431.5,35.5" fill="none" stroke="#fff8ee" stroke-width="3.2" stroke-linecap="round"/></svg>
<div class="fab"></div>
<svg width="2089" height="1200" style="position:absolute;left:0;top:0"><path d="M96.7,1035.4 L76.7,1071.7 M96.7,1035.4 L116.8,1071.7" stroke="#fff" stroke-width="5"/><circle cx="96.7" cy="1035.4" r="9.6" fill="#fff"/><circle cx="76.7" cy="1071.7" r="10" fill="#fff"/><circle cx="116.8" cy="1071.7" r="10" fill="#fff"/></svg>
</body></html>
